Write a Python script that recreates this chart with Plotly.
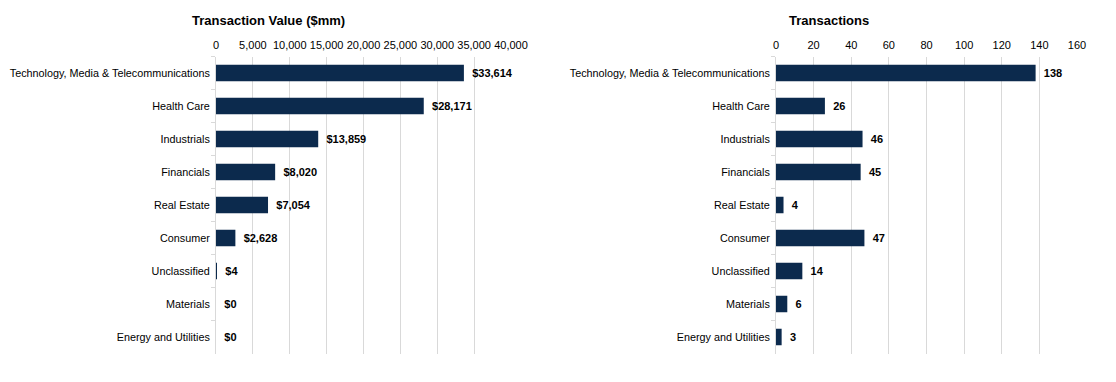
import plotly.graph_objects as go

categories = ["Technology, Media & Telecommunications", "Health Care", "Industrials",
              "Financials", "Real Estate", "Consumer", "Unclassified", "Materials",
              "Energy and Utilities"]
transaction_value = [33614, 28171, 13859, 8020, 7054, 2628, 4, 0, 0]
transactions = [138, 26, 46, 45, 4, 47, 14, 6, 3]
value_ticks = [0, 5000, 10000, 15000, 20000, 25000, 30000, 35000, 40000]
count_ticks = [0, 20, 40, 60, 80, 100, 120, 140, 160]

BAR = "#0c2a4d"
GRID = "#d9d9d9"
FONT = "Liberation Sans, Arial, sans-serif"
PAD = "\u00a0\u2009"

# page body has an 8px margin; figure sized to fit inside the window
OFF = 8
W, H = 1116 - 2 * OFF, 382 - 2 * OFF


def px(x):
    return (x - OFF) / W


def py(y):
    return 1 - (y - OFF) / H


fig = go.Figure()
fig.add_trace(go.Bar(
    y=categories, x=transaction_value, orientation="h", marker_color=BAR,
    marker_line_width=0,
    text=[f"{PAD}${v:,}" for v in transaction_value], textposition="outside",
    textfont=dict(family=FONT, size=11, color="#000000", weight="bold"),
    cliponaxis=False, xaxis="x", yaxis="y", width=0.5,
))
fig.add_trace(go.Bar(
    y=categories, x=transactions, orientation="h", marker_color=BAR,
    marker_line_width=0,
    text=[f"{PAD}{v:,}" for v in transactions], textposition="outside",
    textfont=dict(family=FONT, size=11, color="#000000", weight="bold"),
    cliponaxis=False, xaxis="x2", yaxis="y2", width=0.5,
))

ydom = [py(353.5), py(56.5)]
common_x = dict(side="top", showgrid=True, gridcolor=GRID, gridwidth=1, zeroline=False,
                showline=False, ticks="", tickfont=dict(family=FONT, size=11, color="#000"),
                tickformat=",d", ticklabelstandoff=4, automargin=False)
common_y = dict(autorange="reversed", showline=True, linecolor=GRID, linewidth=1,
                ticks="outside", tickson="boundaries", ticklen=4, tickcolor=GRID,
                tickfont=dict(family=FONT, size=10.8, color="#000"), showgrid=False,
                ticklabelstandoff=3, domain=ydom, automargin=False)

fig.update_layout(
    width=W, height=H, margin=dict(l=0, r=0, t=0, b=0, autoexpand=False),
    paper_bgcolor="white", plot_bgcolor="white", showlegend=False,
    bargap=0.5,
    xaxis=dict(common_x, domain=[px(216), px(511)], range=[0, 40000], tickvals=value_ticks,
               anchor="y"),
    yaxis=dict(common_y, anchor="x"),
    xaxis2=dict(common_x, domain=[px(776), px(1077)], range=[0, 160], tickvals=count_ticks,
                anchor="y2"),
    yaxis2=dict(common_y, anchor="x2"),
    annotations=[
        dict(text="<b>Transaction Value ($mm)</b>", x=px(268), y=py(20), xref="paper",
             yref="paper", xanchor="center", yanchor="middle", showarrow=False,
             font=dict(family=FONT, size=13, color="#000")),
        dict(text="<b>Transactions</b>", x=px(829), y=py(20), xref="paper",
             yref="paper", xanchor="center", yanchor="middle", showarrow=False,
             font=dict(family=FONT, size=13, color="#000")),
    ],
)
fig.write_html("out.html")
